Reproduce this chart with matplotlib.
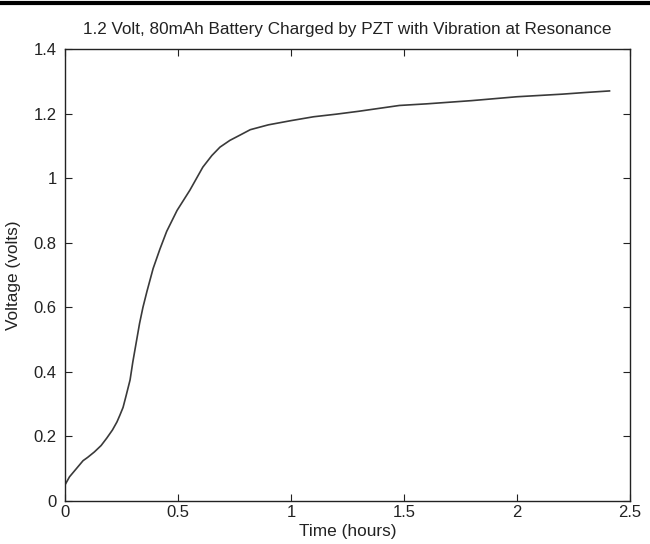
import matplotlib.pyplot as plt
from matplotlib.lines import Line2D

plt.rcParams['font.family'] = ['Liberation Sans', 'DejaVu Sans']

# charging curve
time_h = [0.0, 0.02, 0.05, 0.08, 0.10, 0.13, 0.16, 0.185, 0.21, 0.23, 0.243,
          0.257, 0.27, 0.288, 0.30, 0.315, 0.33, 0.345, 0.363, 0.39, 0.42,
          0.45, 0.496, 0.553, 0.61, 0.65, 0.686, 0.73, 0.774, 0.82, 0.90,
          1.0, 1.1, 1.2, 1.3, 1.48, 1.6, 1.8, 2.0, 2.2, 2.3, 2.41]
volts = [0.05, 0.075, 0.10, 0.125, 0.135, 0.152, 0.172, 0.195, 0.22, 0.245,
         0.266, 0.29, 0.325, 0.375, 0.43, 0.49, 0.55, 0.60, 0.65, 0.72, 0.78,
         0.835, 0.90, 0.963, 1.034, 1.07, 1.096, 1.117, 1.133, 1.15, 1.165,
         1.178, 1.19, 1.198, 1.207, 1.225, 1.23, 1.24, 1.252, 1.26, 1.265,
         1.27]

x_ticks = [0, 0.5, 1, 1.5, 2, 2.5]
x_labels = ['0', '0.5', '1', '1.5', '2', '2.5']
y_ticks = [0, 0.2, 0.4, 0.6, 0.8, 1, 1.2, 1.4]
y_labels = ['0', '0.2', '0.4', '0.6', '0.8', '1', '1.2', '1.4']

fig = plt.figure(figsize=(6.5, 5.44), dpi=100)
ax = fig.add_axes([0.1, 0.079, 0.869, 0.831])

ax.plot(time_h, volts, color='#3a3a3a', lw=1.2)

ax.set_xlim(0, 2.5)
ax.set_ylim(0, 1.4)
ax.set_xticks(x_ticks)
ax.set_xticklabels(x_labels)
ax.set_yticks(y_ticks)
ax.set_yticklabels(y_labels)
ax.tick_params(direction='in', top=True, right=True, length=5, width=0.8,
               labelsize=12, colors='#222222')
ax.tick_params(axis='y', pad=6)
ax.tick_params(axis='x', pad=3)
for s in ax.spines.values():
    s.set_linewidth(1.0)
    s.set_color('#222222')

ax.set_title('1.2 Volt, 80mAh Battery Charged by PZT with Vibration at Resonance',
             fontsize=12.3, color='#222222', pad=11)
ax.set_xlabel('Time (hours)', fontsize=12.4, color='#222222', labelpad=3)
ax.set_ylabel('Voltage (volts)', fontsize=12.4, color='#222222', labelpad=9)

# heavy rule across the top of the page
fig.add_artist(Line2D([0, 1], [0.994, 0.994], color='black', lw=3,
                      transform=fig.transFigure))

fig.savefig('out.png', dpi=100)
